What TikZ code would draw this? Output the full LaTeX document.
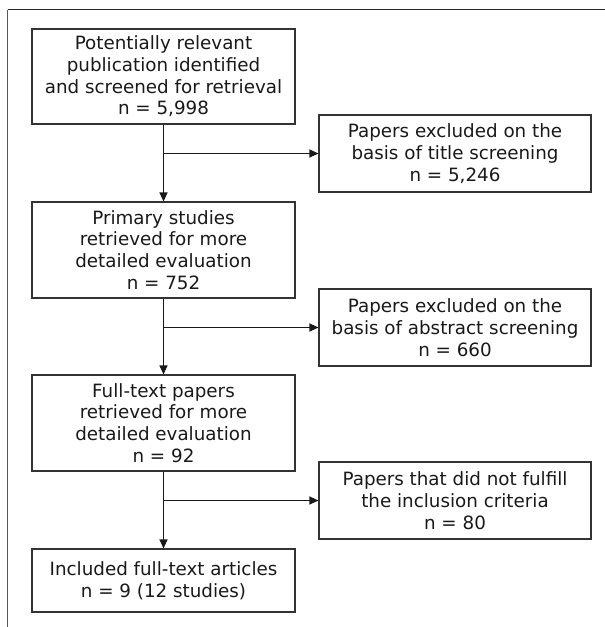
\documentclass[tikz,border=0pt]{standalone}
\usepackage{fontspec}
\setmainfont{DejaVu Sans}
\usetikzlibrary{arrows.meta}
\begin{document}
\begin{tikzpicture}[x=1pt,y=-1pt,
  box/.style={draw=black!80, line width=1.1pt, rectangle, inner sep=0pt, align=center,
    font=\fontsize{18.3pt}{21.7pt}\selectfont, text=black!90},
  leftbox/.style={box, minimum width=263pt},
  rightbox/.style={box, minimum width=272pt, minimum height=77pt},
  conn/.style={line width=1.1pt, black!90, -{Triangle[length=9pt,width=8pt]}}
]
\useasboundingbox (0,0) rectangle (605,627);
% open frame
\draw[line width=1pt, black!85] (7.5,9.5) -- (605,9.5);
\draw[line width=1.7pt, black!65] (7.5,9.5) -- (7.5,627);

\node[leftbox, minimum height=95pt] (b1) at (163.5,76.5)
  {Potentially relevant\\publication identified\\and screened for retrieval\\n = 5,998};
\node[leftbox, minimum height=96pt] (b2) at (163.5,250)
  {Primary studies\\retrieved for more\\detailed evaluation\\n = 752};
\node[leftbox, minimum height=96pt] (b3) at (163.5,423)
  {Full-text papers\\retrieved for more\\detailed evaluation\\n = 92};
\node[leftbox, minimum height=63pt] (b4) at (163.5,580.5)
  {Included full-text articles\\n = 9 (12 studies)};

\node[rightbox] (r1) at (455,153.5)
  {Papers excluded on the\\basis of title screening\\n = 5,246};
\node[rightbox] (r2) at (455,327.5)
  {Papers excluded on the\\basis of abstract screening\\n = 660};
\node[rightbox] (r3) at (455,500.5)
  {Papers that did not fulfill\\the inclusion criteria\\n = 80};

\coordinate (j1) at (b1.south |- r1.west);
\coordinate (j2) at (b2.south |- r2.west);
\coordinate (j3) at (b3.south |- r3.west);

\draw[conn] (b1.south) -- (b2.north);
\draw[conn] (b2.south) -- (b3.north);
\draw[conn] (b3.south) -- (b4.north);
\draw[conn] (j1) -- (r1.west);
\draw[conn] (j2) -- (r2.west);
\draw[conn] (j3) -- (r3.west);
\end{tikzpicture}
\end{document}
